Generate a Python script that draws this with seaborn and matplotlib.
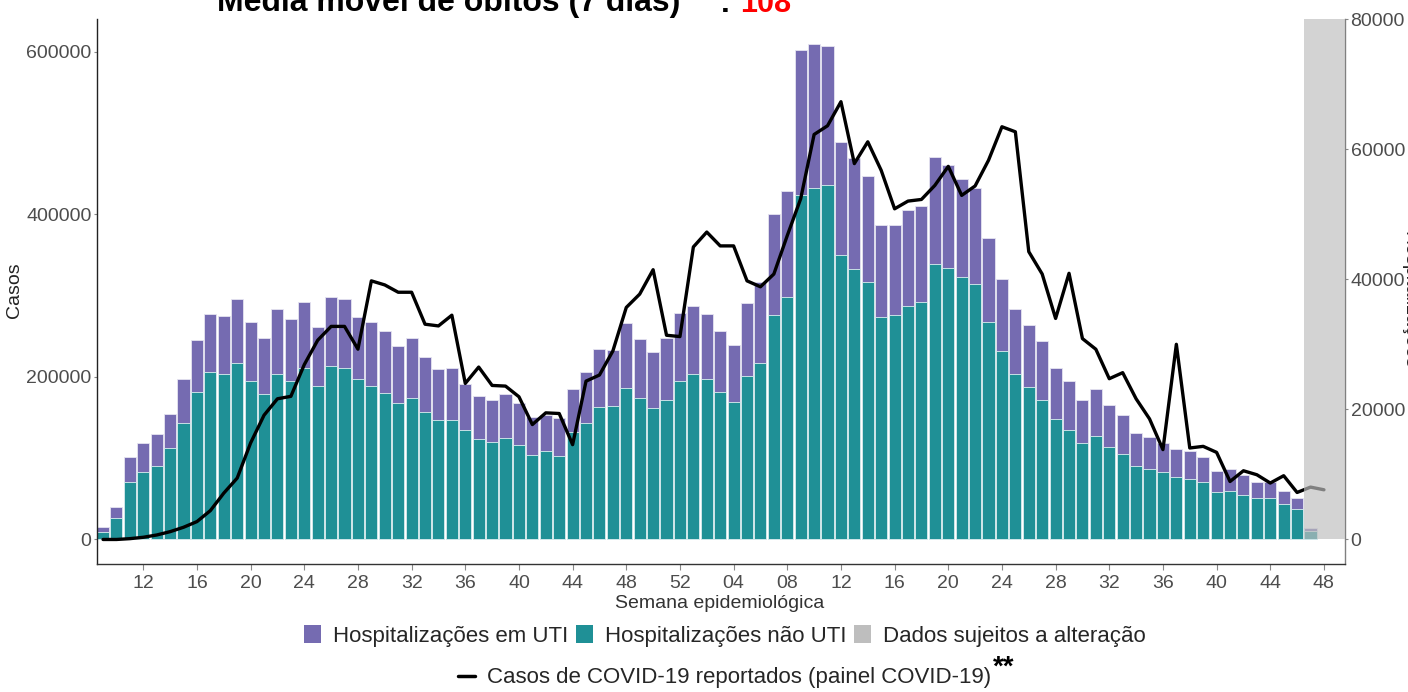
import numpy as np
import pandas as pd
import seaborn as sns
import matplotlib
matplotlib.use("Agg")
import matplotlib.pyplot as plt
from matplotlib.patches import Patch
from matplotlib.lines import Line2D

# ---------------- data ----------------
weeks_2020 = list(range(9, 53))
weeks_2021 = list(range(1, 49))
week_labels = [f"{w:02d}" for w in weeks_2020 + weeks_2021]   # line covers all weeks

# hospitalisations (total = UTI + não UTI), last value = week with data subject to change
hosp_total = [1.9, 5.0, 12.6, 14.8, 16.2, 19.3, 24.6, 30.6, 34.7, 34.4,
              36.9, 33.5, 31.0, 35.4, 33.9, 36.5, 32.7, 37.2, 36.9, 34.2,
              33.5, 32.0, 29.8, 30.9, 28.1, 26.2, 26.4, 23.9, 22.1, 21.5,
              22.3, 20.9, 18.9, 19.2, 18.6, 23.2, 25.7, 29.3, 29.2, 33.2,
              30.8, 28.8, 30.9, 34.8, 35.9, 34.7, 32.0, 29.9, 36.3, 39.5,
              50.1, 53.5, 75.3, 76.2, 75.9, 61.1, 58.6, 55.8, 48.3, 48.4,
              50.7, 51.3, 58.8, 57.6, 55.4, 54.1, 46.4, 40.1, 35.5, 32.9,
              30.5, 26.3, 24.4, 21.4, 23.1, 20.7, 19.2, 16.4, 15.8, 14.9,
              13.9, 13.6, 12.6, 10.6, 10.8, 9.9, 8.9, 8.8, 7.5, 6.3,
              1.7]
hosp_nao_uti = [1.2, 3.35, 8.8, 10.3, 11.3, 14.0, 17.9, 22.7, 25.8, 25.5,
                27.2, 24.4, 22.4, 25.4, 24.3, 26.4, 23.6, 26.7, 26.4, 24.6,
                23.6, 22.5, 21.0, 21.7, 19.6, 18.4, 18.4, 16.8, 15.4, 15.0,
                15.6, 14.5, 13.0, 13.6, 12.8, 16.5, 17.9, 20.3, 20.5, 23.3,
                21.8, 20.2, 21.4, 24.4, 25.5, 24.6, 22.6, 21.2, 25.2, 27.1,
                34.5, 37.3, 52.9, 54.1, 54.5, 43.7, 41.6, 39.5, 34.2, 34.5,
                35.9, 36.5, 42.3, 41.8, 40.3, 39.2, 33.5, 29.0, 25.4, 23.4,
                21.5, 18.5, 16.9, 14.8, 15.9, 14.2, 13.2, 11.3, 10.8, 10.3,
                9.6, 9.3, 8.8, 7.3, 7.5, 6.8, 6.3, 6.4, 5.4, 4.7,
                1.3]
# reported cases (thousands)
casos = [0, 0, 1, 2.7, 5.5, 9.6, 15, 22, 35.5, 57,
         75.5, 118.7, 152.8, 173, 176, 215, 245, 262, 262, 234,
         318, 313, 304, 304, 264.7, 262.6, 275.8, 191.9, 212, 189.4,
         188.6, 175.5, 141.3, 155.7, 154.9, 116.6, 194.7, 202.2, 231.8, 285.3,
         301.7, 331.7, 251.1, 249.5, 359.7, 378, 361, 361, 318, 310.7,
         326.4, 373.7, 419, 498, 508.7, 538.3, 462.2, 489, 453.9, 406.6,
         416.1, 418.1, 435.4, 458.8, 423.1, 434.7, 466.3, 507.5, 501.3, 353.9,
         326.4, 271.8, 327.3, 247, 233.9, 197.7, 205.1, 173, 148.3, 110.5,
         240, 112.5, 114.5, 107.1, 71.3, 84.5, 79.6, 69.4, 78.4, 57.8,
         64.4, 61.1]

bars = pd.DataFrame({"pos": np.arange(len(hosp_total)),
                     "total": np.array(hosp_total) * 1000,
                     "nao_uti": np.array(hosp_nao_uti) * 1000})
line = pd.DataFrame({"pos": np.arange(len(casos)), "casos": np.array(casos) * 1000})

PURPLE = "#756BB1"
TEAL = "#1F9096"
GRAYBOX = "#BEBEBE"
TICKC = "#4D4D4D"
SCALE = 8  # cases axis = 8 x hospitalisation axis

# ---------------- figure ----------------
sns.set_theme(style="white")
plt.rcParams["font.family"] = ["Liberation Sans", "DejaVu Sans"]

W, H = 1408, 692
fig = plt.figure(figsize=(W / 100, H / 100), dpi=100)
L, R, T, B = 97, 1345, 19, 564
ax = fig.add_axes([L / W, 1 - B / H, (R - L) / W, (B - T) / H])

sns.barplot(data=bars, x="pos", y="total", ax=ax, color=PURPLE, saturation=1,
            width=0.9, native_scale=True, errorbar=None,
            edgecolor="#E6E4F1", linewidth=0.6)
sns.barplot(data=bars, x="pos", y="nao_uti", ax=ax, color=TEAL, saturation=1,
            width=0.9, native_scale=True, errorbar=None,
            edgecolor="#DCEFF0", linewidth=0.6)

axl = ax.twinx()
sns.lineplot(data=line, x="pos", y="casos", ax=axl, color="black", linewidth=2.4)

hmax = 80000
xmin, xmax = -0.45, 92.57
ax.set_xlim(xmin, xmax)
ax.set_ylim(-3770, hmax)
axl.set_ylim(-3770 * SCALE, hmax * SCALE)

# overlay for data subject to change
x0 = bars["pos"].iloc[-1] - 0.45
axl.fill_between([x0, xmax], 0, hmax * SCALE, color=GRAYBOX, alpha=0.68,
                 linewidth=0, zorder=5)

# ticks
xt = [p for p in range(len(week_labels)) if p % 4 == 3]
ax.set_xticks(xt)
ax.set_xticklabels([week_labels[p] for p in xt], fontsize=14, color=TICKC)
ax.tick_params(axis="x", length=4, width=0.8, color="#888888", pad=4, bottom=True)

ax.yaxis.tick_right()
ax.set_yticks([0, 20000, 40000, 60000, 80000])
ax.set_yticklabels(["0", "20000", "40000", "60000", "80000"], fontsize=14, color=TICKC)
ax.tick_params(axis="y", right=True, left=False, length=2, width=0.8,
               color="#888888", pad=2)

axl.yaxis.tick_left()
axl.yaxis.set_label_position("left")
axl.set_yticks([0, 200000, 400000, 600000])
axl.set_yticklabels(["0", "200000", "400000", "600000"], fontsize=14, color=TICKC)
axl.tick_params(axis="y", left=True, right=False, length=2, width=0.8,
                color="#888888", pad=2)

for s in ax.spines.values():
    s.set_visible(False)
for name, s in axl.spines.items():
    s.set_visible(name in ("left", "bottom", "right"))
axl.spines["left"].set_color("#222222")
axl.spines["left"].set_linewidth(1.0)
axl.spines["bottom"].set_color("#333333")
axl.spines["bottom"].set_linewidth(1.0)
axl.spines["right"].set_color("#808080")
axl.spines["right"].set_linewidth(1.0)

ax.set_xlabel("")
ax.set_ylabel("")
axl.set_xlabel("")
axl.set_ylabel("")
ax.grid(False)
axl.grid(False)

fig.text(15 / W, 1 - 290 / H, "Casos", rotation=90, ha="center", va="center",
         fontsize=14, color="#222222")
fig.text(720 / W, 1 - 604 / H, "Semana epidemiológica", ha="center", va="center",
         fontsize=14, color="#333333")
fig.text(1409 / W, 1 - 300 / H, "Hospitalizações", rotation=-90, ha="center",
         va="center", fontsize=14, color="#222222")

# title (clipped at top, as in the reference)
fig.text(217 / W, 1 - 11.5 / H, "Média móvel de óbitos (7 dias)", fontsize=23,
         fontweight="bold", ha="left", va="baseline", color="black")
fig.text(720 / W, 1 - 11.5 / H, ":", fontsize=23, fontweight="bold",
         ha="left", va="baseline", color="black")
fig.text(740 / W, 1 - 11.5 / H, "108", fontsize=22, fontweight="bold",
         ha="left", va="baseline", color="red")

# legends
h1 = [Patch(facecolor=PURPLE, edgecolor="none"),
      Patch(facecolor=TEAL, edgecolor="none"),
      Patch(facecolor=GRAYBOX, edgecolor="none")]
fig.legend(h1, ["Hospitalizações em UTI", "Hospitalizações não UTI",
                "Dados sujeitos a alteração"],
           loc="center", bbox_to_anchor=(725 / W, 1 - 636 / H), ncol=3,
           frameon=False, fontsize=16, handlelength=0.75, handleheight=0.85,
           handletextpad=0.55, columnspacing=0.35, borderpad=0, borderaxespad=0)
h2 = [Line2D([0], [0], color="black", linewidth=2.5)]
fig.legend(h2, ["Casos de COVID-19 reportados (painel COVID-19)"],
           loc="center", bbox_to_anchor=(725 / W, 1 - 678 / H), ncol=1,
           frameon=False, fontsize=16, handlelength=0.75,
           handletextpad=0.55, borderpad=0, borderaxespad=0)
fig.text(993 / W, 1 - 668 / H, "**", fontsize=20, fontweight="bold",
         ha="left", va="center", color="black")

fig.savefig("out.png", dpi=100)
